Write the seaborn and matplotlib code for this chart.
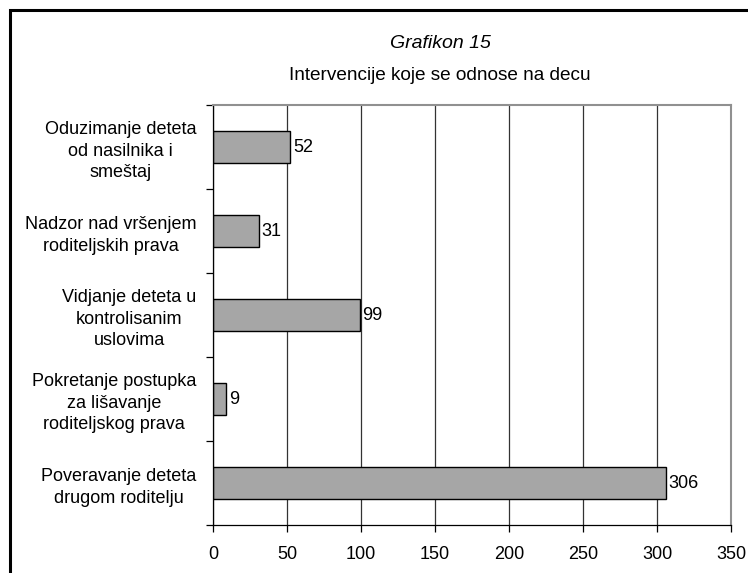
import numpy as np
import pandas as pd
import matplotlib
matplotlib.use("Agg")
import matplotlib.pyplot as plt
import matplotlib.patches as patches
import seaborn as sns

categories = [
    "Oduzimanje deteta\nod nasilnika i\nsmeštaj",
    "Nadzor nad vršenjem\nroditeljskih prava",
    "Vidjanje deteta u\nkontrolisanim\nuslovima",
    "Pokretanje postupka\nza lišavanje\nroditeljskog prava",
    "Poveravanje deteta\ndrugom roditelju",
]
values = [52, 31, 99, 9, 306]
x_ticks = [0, 50, 100, 150, 200, 250, 300, 350]

sns.set_theme(style="white")
plt.rcParams["font.family"] = ["Liberation Sans", "DejaVu Sans"]
plt.rcParams["text.color"] = "black"
plt.rcParams["xtick.color"] = "black"
plt.rcParams["ytick.color"] = "black"

df = pd.DataFrame({"kategorija": categories, "broj": values})

fig = plt.figure(figsize=(7.48, 5.73), dpi=100)
ax = fig.add_axes([213 / 748, 48 / 573, 518 / 748, 420 / 573])

sns.barplot(data=df, x="broj", y="kategorija", orient="h", color="#a6a6a6",
            saturation=1, width=0.38, edgecolor="black", linewidth=1, ax=ax)

ax.set_xlim(0, 350)
ax.set_ylim(len(categories) - 0.5, -0.5)
ax.set_xticks(x_ticks)
ax.set_xticklabels([str(t) for t in x_ticks], fontsize=13)
ax.set_xlabel("")
ax.set_ylabel("")

# vertical grid lines
ax.xaxis.grid(True, color="#333333", linewidth=0.9)
ax.yaxis.grid(False)
ax.set_axisbelow(True)

# y tick labels centred multi-line, ticks at category boundaries
ax.set_yticks(np.arange(len(categories)))
ax.set_yticklabels(categories, fontsize=13, multialignment="center", linespacing=1.35)
ax.tick_params(axis="y", which="major", length=0, pad=12)
ax.set_yticks(np.arange(len(categories) + 1) - 0.5, minor=True)
ax.tick_params(axis="y", which="minor", length=5, width=0.9, color="black", direction="out", left=True)
ax.tick_params(axis="x", length=5, width=0.9, color="black", direction="out", bottom=True, pad=10)

for side in ["left", "bottom"]:
    ax.spines[side].set_color("black")
    ax.spines[side].set_linewidth(0.9)
for side in ["top", "right"]:
    ax.spines[side].set_color("#909090")
    ax.spines[side].set_linewidth(1.5)

# value labels
for i, v in enumerate(values):
    ax.text(v + 2, i, str(v), va="center", ha="left", fontsize=13)

# titles
fig.text(440 / 748, 1 - 43 / 573, "Grafikon 15", ha="center", va="center",
         fontsize=14, style="italic")
fig.text(440 / 748, 1 - 75 / 573, "Intervencije koje se odnose na decu",
         ha="center", va="center", fontsize=13.7)

# outer frame (continues past the right and bottom edges)
frame = patches.Rectangle((9.5 / 748, -0.2), 1.2, 1.2 - 10 / 573,
                          transform=fig.transFigure, fill=False,
                          edgecolor="black", linewidth=2.2, clip_on=False)
fig.patches.append(frame)

fig.savefig("out.png", dpi=100)
